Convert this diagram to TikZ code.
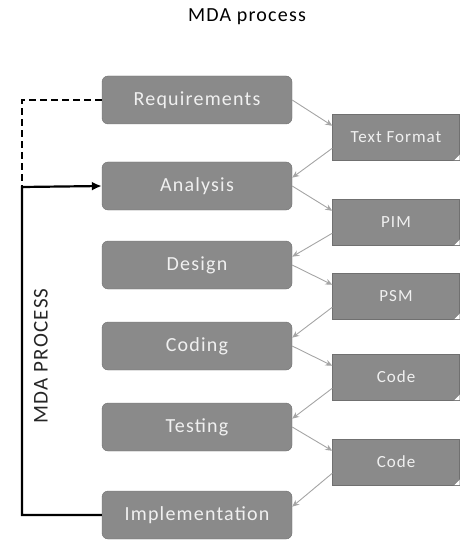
\documentclass[tikz,border=0pt]{standalone}
\usepackage{fontspec}
\setmainfont{Carlito}[LetterSpace=6]
\usetikzlibrary{arrows.meta}

\definecolor{boxgray}{RGB}{138,138,138}
\definecolor{boxedge}{RGB}{112,112,112}
\definecolor{boxtext}{RGB}{240,240,240}
\definecolor{flowgray}{RGB}{165,165,165}

\tikzset{
  stage/.style={draw=boxedge, fill=boxgray, rounded corners=6pt,
    minimum width=190pt, minimum height=48pt, text=boxtext,
    font=\fontsize{20}{23}\selectfont},
  artefact/.style={draw=boxedge, fill=boxgray,
    minimum width=127pt, minimum height=46pt, text=boxtext,
    font=\fontsize{17}{20}\selectfont},
  flow/.style={draw=flowgray, line width=0.9pt, -{Stealth[length=7pt,width=6pt]}}
}

\begin{document}
\begin{tikzpicture}[x=1pt,y=-1pt]
  \useasboundingbox (0,0) rectangle (461,548);

  \node (title) at (247,17) {\fontsize{20}{23}\selectfont MDA process};

  % process steps
  \node[stage] (req)  at (197,100) {Requirements};
  \node[stage] (ana)  at (197,186) {Analysis};
  \node[stage] (des)  at (197,265) {Design};
  \node[stage] (cod)  at (197,346) {Coding};
  \node[stage] (tst)  at (197,427) {Testing};
  \node[stage] (impl) at (197,515) {Implementation};

  % artefacts
  \node[artefact] (txt)  at (396,137) {Text Format};
  \node[artefact] (pim)  at (396,222) {PIM};
  \node[artefact] (psm)  at (396,296) {PSM};
  \node[artefact] (code) at (396,377) {Code};
  \node[artefact] (codeb) at (396,462) {Code};
  \foreach \n in {txt,pim,psm,code,codeb}{
    \fill[white] (\n.south east) -- ++(-6,0) -- ++(6,-6) -- cycle;
    \draw[boxedge] (\n.south east) ++(-6,0) -- ++(6,-6);
  }

  % artefact flow
  \draw[flow] (req.east) -- (txt.170);
  \draw[flow] (txt.190) -- (ana.5);
  \draw[flow] (ana.east) -- (pim.170);
  \draw[flow] (pim.190) -- (des.5);
  \draw[flow] (des.east) -- (psm.170);
  \draw[flow] (psm.190) -- (cod.5);
  \draw[flow] (cod.east) -- (code.170);
  \draw[flow] (code.190) -- (tst.5);
  \draw[flow] (tst.east) -- (codeb.170);
  \draw[flow] (codeb.190) -- (impl.5);

  % iteration loop
  \coordinate (turn) at (22,187);
  \draw[dashed, line width=1.4pt, dash pattern=on 7pt off 4pt] (req.west) -| (turn);
  \draw[line width=2.2pt, -{Latex[length=10pt,width=9pt]}] (impl.west) -| (turn) -- (ana.west);
  \node[rotate=90, text=black!85, font=\fontsize{21}{24}\selectfont] (loop) at (41,356) {MDA PROCESS};
\end{tikzpicture}
\end{document}
